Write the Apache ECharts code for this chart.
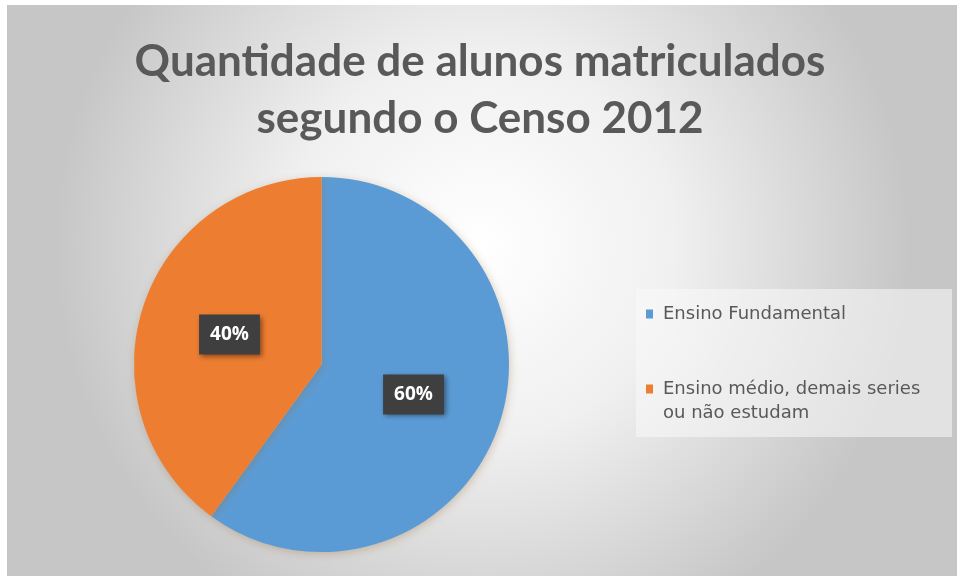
<!DOCTYPE html>
<html>
<head>
<meta charset="utf-8">
<script src="https://cdn.jsdelivr.net/npm/echarts@6/dist/echarts.min.js"></script>
<style>html,body{margin:0;padding:0;background:#fff}#c{width:960px;height:578px}</style>
</head>
<body>
<div id="c"></div>
<script>
const titleLines = ["Quantidade de alunos matriculados", "segundo o Censo 2012"];
const categories = ["Ensino Fundamental", "Ensino médio, demais series ou não estudam"];
const values = [60, 40];
const colors = ["#5B9BD5", "#ED7D31"];

const chart = echarts.init(document.getElementById('c'));
chart.setOption({
  backgroundColor: '#ffffff',
  animation: false,
  graphic: [{
    type: 'rect', z: -10,
    shape: {x: 7, y: 5, width: 950, height: 571},
    style: {
      fill: {
        type: 'radial', x: 0.5, y: 0.42, r: 0.75,
        colorStops: [
          {offset: 0, color: '#ffffff'},
          {offset: 0.45, color: '#f0f0f0'},
          {offset: 1, color: '#c6c6c6'}
        ]
      }
    }
  }],
  title: {
    text: titleLines.join('\n'),
    left: 'center',
    top: 28,
    textStyle: {
      fontFamily: 'Lato', fontWeight: 'bold', fontSize: 44,
      color: '#595959', lineHeight: 57
    }
  },
  legend: {
    orient: 'vertical',
    left: 636, top: 289,
    padding: [13, 6, 12, 10],
    itemGap: 27,
    itemWidth: 7, itemHeight: 9,
    icon: 'rect',
    backgroundColor: 'rgba(250,250,250,0.55)',
    formatter: function (name) {
      return name === categories[1] ? '\nEnsino médio, demais series\nou não estudam' : name;
    },
    textStyle: {
      fontFamily: 'DejaVu Sans', fontSize: 18, color: '#595959',
      lineHeight: 24, width: 283, padding: [0, 0, 0, 5]
    },
    data: categories
  },
  series: [{
    type: 'pie',
    center: [321.5, 364.5],
    radius: 187.5,
    startAngle: 90,
    clockwise: true,
    data: categories.map((c, i) => ({name: c, value: values[i], itemStyle: {color: colors[i]}})),
    itemStyle: {
      shadowBlur: 8, shadowColor: 'rgba(150,110,60,0.35)', shadowOffsetX: 1, shadowOffsetY: 2
    },
    label: {
      position: 'inside',
      formatter: '{d}%',
      color: '#ffffff',
      fontFamily: 'Open Sans', fontSize: 19, fontWeight: 'bold',
      backgroundColor: '#3f3f3f',
      padding: [11, 11, 10, 11],
      shadowBlur: 5, shadowColor: 'rgba(0,0,0,0.45)', shadowOffsetX: 2, shadowOffsetY: 2
    },
    labelLine: {show: false},
    emphasis: {disabled: true}
  }]
});
</script>
</body>
</html>
